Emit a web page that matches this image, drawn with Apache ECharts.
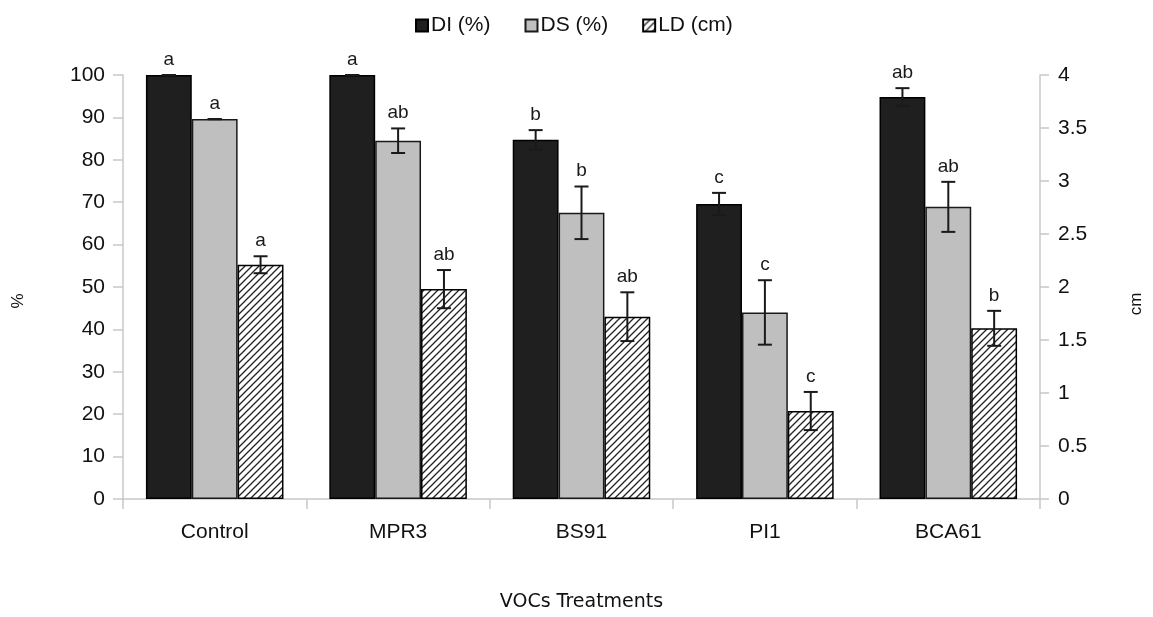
<!DOCTYPE html>
<html>
<head>
<meta charset="utf-8">
<style>
  html, body { margin: 0; padding: 0; background: #fff; }
  #chart { width: 1153px; height: 617px; }
</style>
<script src="https://cdn.jsdelivr.net/npm/echarts@6/dist/echarts.min.js"></script>
</head>
<body>
<div id="chart"></div>
<script>
// Treatments on the x axis
const categories = ['Control', 'MPR3', 'BS91', 'PI1', 'BCA61'];

// Disease incidence (%)
const diValues = [100, 100, 84.7, 69.6, 94.8];
const diErrors = [0, 0, 2.3, 2.6, 2.1];
const diLetters = ['a', 'a', 'b', 'c', 'ab'];

// Disease severity (%)
const dsValues = [89.6, 84.5, 67.5, 44.0, 68.9];
const dsErrors = [0, 2.9, 6.2, 7.6, 5.9];
const dsLetters = ['a', 'ab', 'b', 'c', 'ab'];

// Lesion diameter (cm)
const ldValues = [2.21, 1.98, 1.72, 0.83, 1.61];
const ldErrors = [0.08, 0.18, 0.23, 0.18, 0.165];
const ldLetters = ['a', 'ab', 'ab', 'c', 'b'];

// Axis ticks
const percentTicks = { min: 0, max: 100, interval: 10 };
const cmTicks = { min: 0, max: 4, interval: 0.5 };

const FONT = '"Liberation Sans", Arial, sans-serif';
const BAR_GAP_RATIO = 0.25;

// Diagonal hatch tile for the lesion-diameter bars
function hatchTile() {
  const s = 7;
  const c = document.createElement('canvas');
  c.width = s; c.height = s;
  const g = c.getContext('2d');
  g.fillStyle = '#ffffff';
  g.fillRect(0, 0, s, s);
  g.strokeStyle = '#222222';
  g.lineWidth = 1.3;
  g.beginPath();
  g.moveTo(-1, s + 1); g.lineTo(s + 1, -1);
  g.moveTo(-1, 1); g.lineTo(1, -1);
  g.moveTo(s - 1, s + 1); g.lineTo(s + 1, s - 1);
  g.stroke();
  return c;
}
const hatch = { image: hatchTile(), repeat: 'repeat' };

// Error whiskers and significance letters drawn over each bar
function errorSeries(name, values, errors, letters, slot, yAxisIndex) {
  return {
    type: 'custom',
    name: name + ' err',
    yAxisIndex: yAxisIndex,
    z: 10,
    silent: true,
    data: values.map((v, i) => [i, v, errors[i]]),
    renderItem: function (params, api) {
      const idx = api.value(0);
      const v = api.value(1);
      const e = api.value(2);
      const letter = letters[idx];
      const band = api.size([1, 0])[0];
      const bw = band * (1 - BAR_GAP_RATIO) / 3;
      const x = api.coord([idx, v])[0] + slot * bw;
      const yTop = api.coord([idx, v + e])[1];
      const yBot = api.coord([idx, v - e])[1];
      const cap = 7;
      const stroke = { stroke: '#1a1a1a', lineWidth: 2 };
      return {
        type: 'group',
        children: [
          { type: 'line', shape: { x1: x, y1: yTop, x2: x, y2: yBot }, style: stroke },
          { type: 'line', shape: { x1: x - cap, y1: yTop, x2: x + cap, y2: yTop }, style: stroke },
          { type: 'line', shape: { x1: x - cap, y1: yBot, x2: x + cap, y2: yBot }, style: stroke },
          {
            type: 'text',
            style: {
              x: x, y: yTop - 6, text: letter,
              align: 'center', verticalAlign: 'bottom',
              font: '19px ' + FONT, fill: '#1a1a1a'
            }
          }
        ]
      };
    }
  };
}

const chart = echarts.init(document.getElementById('chart'), null, { renderer: 'canvas' });

const axisLineGray = { show: true, lineStyle: { color: '#c8c8c8', width: 1.5 } };
const tickGray = { color: '#c8c8c8', width: 1.5 };

chart.setOption({
  animation: false,
  backgroundColor: '#ffffff',
  textStyle: { fontFamily: FONT },
  legend: {
    top: 10,
    left: 410,
    itemWidth: 12,
    itemHeight: 12,
    itemGap: 34,
    icon: 'rect',
    textStyle: { fontSize: 21, color: '#111', fontFamily: FONT, padding: [0, 0, 0, -2] },
    data: ['DI (%)', 'DS (%)', 'LD (cm)']
  },
  grid: { left: 123, right: 110, top: 75, bottom: 117, containLabel: false },
  xAxis: {
    type: 'category',
    data: categories,
    name: 'VOCs Treatments',
    nameLocation: 'middle',
    nameGap: 94,
    nameTextStyle: { fontSize: 19, color: '#111', fontFamily: '"DejaVu Sans", sans-serif' },
    axisLine: axisLineGray,
    axisTick: { show: true, length: 10, lineStyle: tickGray },
    axisLabel: { fontSize: 21, color: '#111', margin: 23 },
    splitLine: { show: false }
  },
  yAxis: [
    {
      type: 'value',
      min: percentTicks.min, max: percentTicks.max, interval: percentTicks.interval,
      name: '%',
      nameLocation: 'middle',
      nameGap: 96,
      nameRotate: 90,
      nameTextStyle: { fontSize: 17, color: '#111', padding: [0, 28, 0, 0] },
      axisLine: axisLineGray,
      axisTick: { show: true, length: 10, lineStyle: tickGray },
      axisLabel: { fontSize: 21, color: '#111', margin: 18 },
      splitLine: { show: false }
    },
    {
      type: 'value',
      position: 'right',
      min: cmTicks.min, max: cmTicks.max, interval: cmTicks.interval,
      name: 'cm',
      nameLocation: 'middle',
      nameGap: 88,
      nameRotate: 90,
      nameTextStyle: { fontSize: 17, color: '#111', padding: [0, 34, 0, 0] },
      axisLine: axisLineGray,
      axisTick: { show: true, length: 9, lineStyle: tickGray },
      axisLabel: { fontSize: 21, color: '#111', margin: 18 },
      splitLine: { show: false }
    }
  ],
  series: [
    {
      name: 'DI (%)',
      type: 'bar',
      yAxisIndex: 0,
      data: diValues,
      barGap: '0%',
      barCategoryGap: (BAR_GAP_RATIO * 100) + '%',
      itemStyle: { color: '#1f1f1f', borderColor: '#000', borderWidth: 1.5 }
    },
    {
      name: 'DS (%)',
      type: 'bar',
      yAxisIndex: 0,
      data: dsValues,
      barGap: '0%',
      barCategoryGap: (BAR_GAP_RATIO * 100) + '%',
      itemStyle: { color: '#bfbfbf', borderColor: '#1a1a1a', borderWidth: 1.5 }
    },
    {
      name: 'LD (cm)',
      type: 'bar',
      yAxisIndex: 1,
      data: ldValues,
      barGap: '0%',
      barCategoryGap: (BAR_GAP_RATIO * 100) + '%',
      itemStyle: { color: hatch, borderColor: '#000', borderWidth: 1.5 }
    },
    errorSeries('DI (%)', diValues, diErrors, diLetters, -1, 0),
    errorSeries('DS (%)', dsValues, dsErrors, dsLetters, 0, 0),
    errorSeries('LD (cm)', ldValues, ldErrors, ldLetters, 1, 1)
  ]
});
</script>
</body>
</html>
